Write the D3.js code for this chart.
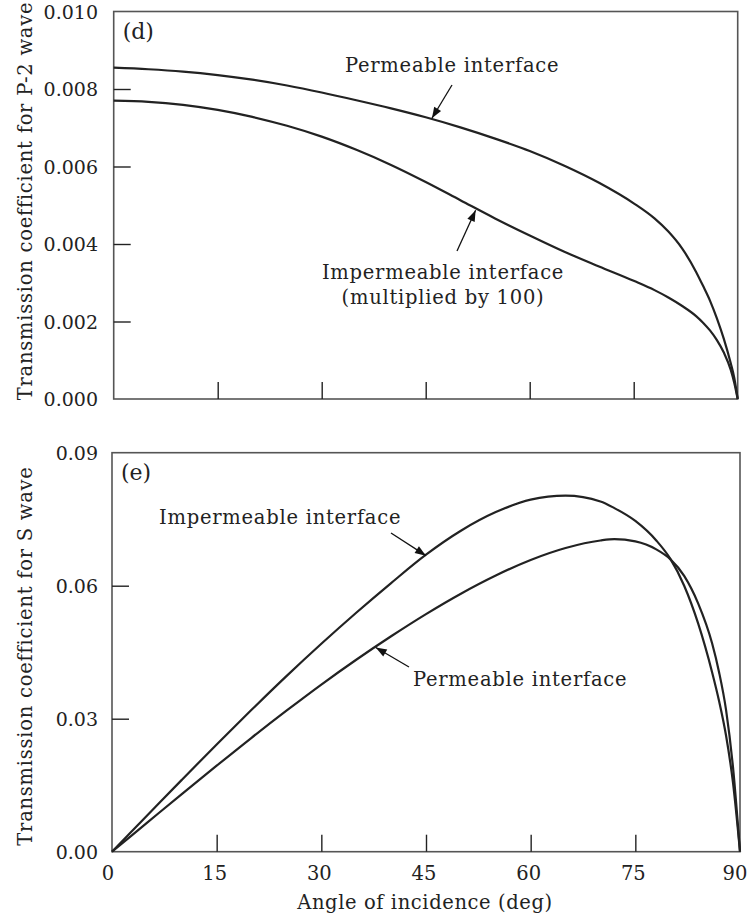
<!DOCTYPE html>
<html>
<head>
<meta charset="utf-8">
<script src="https://cdn.jsdelivr.net/npm/d3@7"></script>
<style>
  html, body { margin: 0; padding: 0; background: #fff; }
  svg { display: block; }
</style>
</head>
<body>
<div id="chart"></div>
<script>
// ---------------- DATA ----------------
// Panel (d): transmission coefficient for P-2 wave
const p2Angles =      [0, 5, 10, 15, 20, 25, 30, 35, 40, 45, 50, 55, 60, 65, 70, 75, 78, 80, 82, 84, 85, 86, 87, 88, 89, 89.5, 90];
const p2Permeable =   [0.00855, 0.00851, 0.00845, 0.00836, 0.00824, 0.00809, 0.00791, 0.00771, 0.00750, 0.00727, 0.00701, 0.00672, 0.00640, 0.00602, 0.00558, 0.00505, 0.00466, 0.00432, 0.00388, 0.00328, 0.00292, 0.00254, 0.00208, 0.00155, 0.00092, 0.00055, 0];
const p2Impermeable = [0.00770, 0.00767, 0.00759, 0.00746, 0.00728, 0.00705, 0.00677, 0.00643, 0.00604, 0.00560, 0.00513, 0.00466, 0.00422, 0.00380, 0.00342, 0.00305, 0.00281, 0.00262, 0.00240, 0.00214, 0.00197, 0.00177, 0.00152, 0.00120, 0.00075, 0.00042, 0];

// Panel (e): transmission coefficient for S wave
const sAngles =       [0, 5, 10, 15, 20, 25, 30, 35, 40, 45, 50, 55, 60, 65, 70, 72, 75, 78, 80, 82, 84, 86, 87, 88, 89, 90];
const sImpermeable =  [0, 0.0081, 0.0162, 0.0242, 0.0320, 0.0396, 0.0469, 0.0539, 0.0606, 0.0670, 0.0724, 0.0766, 0.0794, 0.0803, 0.0790, 0.0775, 0.0746, 0.0702, 0.0661, 0.0600, 0.0515, 0.0405, 0.0340, 0.0262, 0.0155, 0];
const sPermeable =    [0, 0.0065, 0.0130, 0.0194, 0.0257, 0.0318, 0.0377, 0.0433, 0.0486, 0.0536, 0.0582, 0.0623, 0.0658, 0.0685, 0.0702, 0.0705, 0.0700, 0.0682, 0.0660, 0.0622, 0.0560, 0.0470, 0.0405, 0.0320, 0.0190, 0];

const xTicks = [0, 15, 30, 45, 60, 75, 90];
const p2Ticks = [0.000, 0.002, 0.004, 0.006, 0.008, 0.010];
const sTicks = [0.00, 0.03, 0.06, 0.09];

// ---------------- DRAW ----------------
const W = 752, H = 923;
const FONT = "'DejaVu Serif', serif";
const INK = "#222";
const FRAME = "#555";
const FS = 19;      // general font size
const LS = 0.75;    // letter spacing for words

const svg = d3.select("#chart").append("svg")
  .attr("width", W).attr("height", H)
  .attr("font-family", FONT);

function label(g, x, y, txt, anchor) {
  return g.append("text").attr("x", x).attr("y", y)
    .attr("text-anchor", anchor || "start")
    .attr("font-size", FS + 0.5).attr("letter-spacing", LS)
    .attr("fill", INK).text(txt);
}

function arrow(g, x1, y1, x2, y2) {
  g.append("line").attr("x1", x1).attr("y1", y1).attr("x2", x2).attr("y2", y2)
    .attr("stroke", "#111").attr("stroke-width", 1.3);
  const ang = Math.atan2(y2 - y1, x2 - x1);
  const L = 11, Wd = 4;
  const bx = x2 - L * Math.cos(ang), by = y2 - L * Math.sin(ang);
  const px = -Math.sin(ang) * Wd, py = Math.cos(ang) * Wd;
  g.append("path")
    .attr("d", `M${x2},${y2}L${bx + px},${by + py}L${bx - px},${by - py}Z`)
    .attr("fill", "#111");
}

function panel(cfg) {
  const x = d3.scaleLinear().domain([0, 90]).range([cfg.x0, cfg.x1]);
  const y = d3.scaleLinear().domain(cfg.yDomain).range([cfg.y0, cfg.y1]);
  const g = svg.append("g");

  // frame
  g.append("rect")
    .attr("x", cfg.x0).attr("y", cfg.y1)
    .attr("width", cfg.x1 - cfg.x0).attr("height", cfg.y0 - cfg.y1)
    .attr("fill", "none").attr("stroke", FRAME).attr("stroke-width", 1.6);

  // inward ticks via d3 axes
  const xAxis = d3.axisTop(x).tickValues(xTicks.filter(v => v > 0 && v < 90))
    .tickSize(17).tickFormat("");
  const xa = g.append("g").attr("transform", `translate(0,${cfg.y0})`).call(xAxis);
  xa.select(".domain").remove();
  xa.selectAll("line").attr("stroke", INK).attr("stroke-width", 1.4);

  const yAxis = d3.axisRight(y).tickValues(cfg.yTicks.slice(1, -1))
    .tickSize(17).tickFormat("");
  const ya = g.append("g").attr("transform", `translate(${cfg.x0},0)`).call(yAxis);
  ya.select(".domain").remove();
  ya.selectAll("line").attr("stroke", INK).attr("stroke-width", 1.4);

  // y tick labels
  g.selectAll("text.ylab").data(cfg.yTicks).enter().append("text")
    .attr("class", "ylab")
    .attr("x", 98)
    .attr("y", d => y(d) + 7)
    .attr("text-anchor", "end")
    .attr("font-size", FS)
    .attr("fill", INK)
    .text(d => d3.format(cfg.fmt)(d));

  // y title
  g.append("text")
    .attr("transform", `translate(32,${cfg.titleY}) rotate(-90)`)
    .attr("text-anchor", "middle")
    .attr("font-size", FS + 0.5)
    .attr("letter-spacing", LS)
    .attr("fill", INK)
    .text(cfg.title);

  // panel letter
  g.append("text")
    .attr("x", cfg.x0 + 9).attr("y", cfg.y1 + 27)
    .attr("font-size", 22).attr("fill", INK)
    .text(cfg.letter);

  // curves
  const line = d3.line().x(d => x(d[0])).y(d => y(d[1])).curve(d3.curveMonotoneX);
  cfg.series.forEach(s => {
    const pts = cfg.angles.map((a, i) => [a, s[i]]);
    g.append("path").attr("d", line(pts))
      .attr("fill", "none").attr("stroke", INK).attr("stroke-width", 2.2)
      .attr("stroke-linejoin", "round");
  });

  return { g, x, y };
}

// Panel (d)
const d = panel({
  x0: 113.7, x1: 737.7, y0: 399, y1: 11.5,
  yDomain: [0, 0.010], yTicks: p2Ticks, fmt: ".3f",
  title: "Transmission coefficient for P-2 wave", titleY: 201,
  letter: "(d)",
  angles: p2Angles, series: [p2Permeable, p2Impermeable]
});

label(d.g, 345, 72, "Permeable interface");
arrow(d.g, 452, 85, d.x(45.9), d.y(0.00722) - 1);

label(d.g, 443, 279, "Impermeable interface", "middle");
label(d.g, 443, 304, "(multiplied by 100)", "middle");
arrow(d.g, 457, 251, d.x(52.2), d.y(0.00492) + 2);

// Panel (e)
const e = panel({
  x0: 112, x1: 740, y0: 851.7, y1: 452.7,
  yDomain: [0, 0.09], yTicks: sTicks, fmt: ".2f",
  title: "Transmission coefficient for S wave", titleY: 656,
  letter: "(e)",
  angles: sAngles, series: [sImpermeable, sPermeable]
});

label(e.g, 159, 524, "Impermeable interface");
arrow(e.g, 391, 533, e.x(45), e.y(0.0670) + 1);

label(e.g, 413, 686, "Permeable interface");
arrow(e.g, 409, 667, e.x(37.8), e.y(0.0463) + 1);

// x tick labels (bottom panel)
e.g.selectAll("text.xlab").data(xTicks).enter().append("text")
  .attr("class", "xlab")
  .attr("x", v => e.x(v) - (v === 0 ? 4 : v === 90 ? 5 : 2))
  .attr("y", 880)
  .attr("text-anchor", "middle")
  .attr("font-size", FS + 0.5)
  .attr("fill", INK)
  .text(v => v);

svg.append("text")
  .attr("x", 425).attr("y", 909)
  .attr("text-anchor", "middle")
  .attr("font-size", FS + 0.5)
  .attr("letter-spacing", 0.6)
  .attr("fill", INK)
  .text("Angle of incidence (deg)");
</script>
</body>
</html>
